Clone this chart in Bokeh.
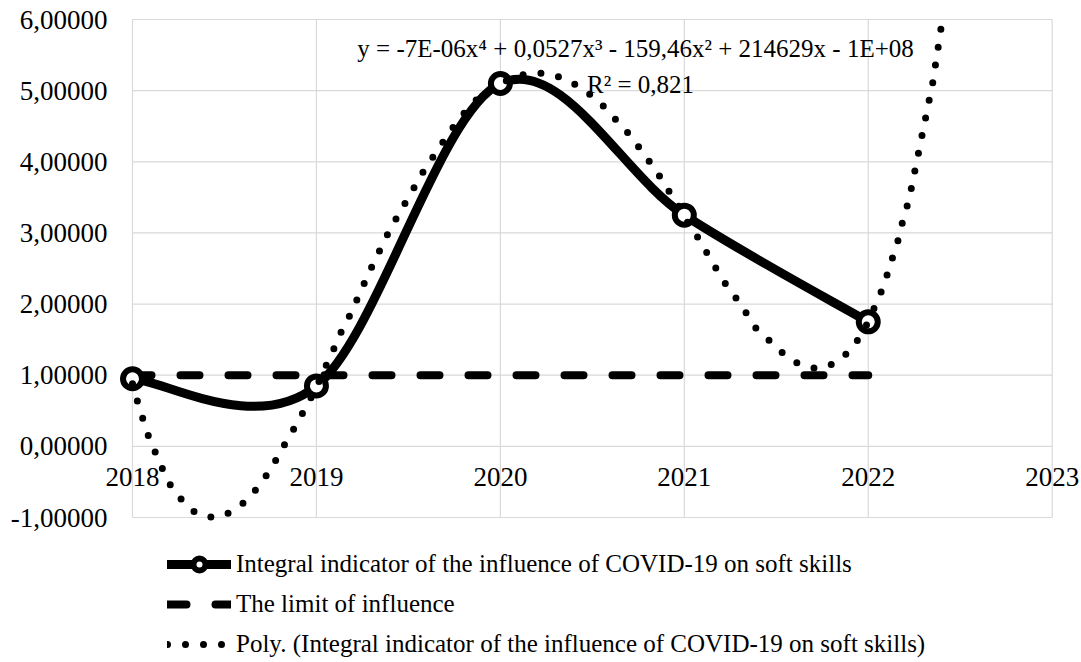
import numpy as np
from bokeh.plotting import figure
from bokeh.models import (Range1d, FixedTicker, CustomJSTickFormatter, Legend,
                          LegendItem, Label, ColumnDataSource)
from bokeh.embed import file_html
from bokeh.resources import INLINE

# ---------------- data ----------------
years = [2018, 2019, 2020, 2021, 2022]
indicator = [0.95, 0.85, 5.10, 3.25, 1.75]
limit = [1.0, 1.0, 1.0, 1.0, 1.0]

# polynomial trendline (visible part)
trend_x = [2018.00, 2018.02, 2018.05, 2018.08, 2018.12, 2018.16, 2018.20, 2018.26,
           2018.33, 2018.40, 2018.46, 2018.52, 2018.60, 2018.67, 2018.73, 2018.78,
           2018.83, 2018.88, 2018.93, 2019.00, 2019.06, 2019.10, 2019.14, 2019.19,
           2019.23, 2019.30, 2019.40, 2019.50, 2019.55, 2019.60, 2019.66, 2019.71,
           2019.77, 2019.83, 2019.90, 2020.00, 2020.09, 2020.19, 2020.28, 2020.38,
           2020.46, 2020.54, 2020.61, 2020.68, 2020.74, 2020.80, 2020.86, 2020.91,
           2020.965, 2021.01, 2021.07, 2021.12, 2021.17, 2021.22, 2021.28, 2021.34,
           2021.39, 2021.47, 2021.54, 2021.62, 2021.72, 2021.81, 2021.89, 2021.95,
           2022.00, 2022.04, 2022.08, 2022.11, 2022.14, 2022.17, 2022.19, 2022.22,
           2022.24, 2022.26, 2022.28, 2022.30, 2022.32, 2022.34, 2022.36, 2022.37,
           2022.39, 2022.40]
trend_y = [0.88, 0.69, 0.44, 0.19, -0.06, -0.30, -0.52, -0.73,
           -0.91, -0.99, -1.00, -0.94, -0.80, -0.61, -0.40, -0.19,
           0.04, 0.26, 0.49, 0.83, 1.18, 1.40, 1.64, 1.88,
           2.12, 2.52, 3.05, 3.50, 3.72, 3.95, 4.16, 4.37,
           4.58, 4.77, 4.95, 5.10, 5.21, 5.25, 5.23, 5.13,
           5.00, 4.84, 4.64, 4.45, 4.25, 4.04, 3.82, 3.61,
           3.40, 3.18, 2.95, 2.73, 2.51, 2.30, 2.09, 1.86,
           1.66, 1.47, 1.30, 1.16, 1.09, 1.16, 1.32, 1.52,
           1.75, 1.99, 2.23, 2.47, 2.72, 2.96, 3.20, 3.45,
           3.70, 3.96, 4.21, 4.47, 4.72, 4.98, 5.23, 5.48,
           5.74, 6.00]

x_ticks = [2018, 2019, 2020, 2021, 2022, 2023]
y_ticks = [-1, 0, 1, 2, 3, 4, 5, 6]

series_name = "Integral indicator of the influence of COVID-19 on soft skills"
limit_name = "The limit of influence"
trend_name = "Poly. (Integral indicator of the influence of COVID-19 on soft skills)"
equation = "y = -7E-06x\u2074 + 0,0527x\u00b3 - 159,46x\u00b2 + 214629x - 1E+08"
r2_text = "R\u00b2 = 0,821"

FONT = "Liberation Serif"
GRID = "#d9d9d9"

# ---------------- figure ----------------
# The frame fills the whole canvas so that the labels and the legend that sit
# around the gridded area are not clipped; the visible plot area spans
# 2018..2023 x -1..6 (pixels 132..1052 x 19..517).
W, H = 1081, 660
xpx = (1051.7 - 132.0) / (x_ticks[-1] - x_ticks[0])
ypx = (517.0 - 19.0) / (y_ticks[-1] - y_ticks[0])
x_range = Range1d(x_ticks[0] - 132.0 / xpx, x_ticks[0] + (W - 132.0) / xpx)
y_range = Range1d(y_ticks[0] - (H - 517.0) / ypx, y_ticks[-1] + 19.0 / ypx)

p = figure(width=W, height=H, output_backend="svg", toolbar_location=None,
           x_range=x_range, y_range=y_range)
p.min_border = 0
p.min_border_left = 0
p.min_border_right = 0
p.min_border_top = 0
p.min_border_bottom = 0
p.outline_line_color = None
p.background_fill_color = "white"
p.border_fill_color = "white"
p.xgrid.visible = False
p.ygrid.visible = False

# gridlines of the plot area, from the tick lists
p.segment(x0=x_ticks, x1=x_ticks, y0=[min(y_ticks)] * len(x_ticks),
          y1=[max(y_ticks)] * len(x_ticks), line_color=GRID, line_width=1.2)
p.segment(x0=[min(x_ticks)] * len(y_ticks), x1=[max(x_ticks)] * len(y_ticks),
          y0=y_ticks, y1=y_ticks, line_color=GRID, line_width=1.2)

p.xaxis.ticker = FixedTicker(ticks=x_ticks)
p.yaxis.ticker = FixedTicker(ticks=y_ticks)
p.xaxis.fixed_location = 0
p.yaxis.fixed_location = x_ticks[0]
p.xaxis.formatter = CustomJSTickFormatter(code="return tick.toFixed(0);")
p.yaxis.formatter = CustomJSTickFormatter(code="return tick.toFixed(5).replace('.', ',');")
for ax in (p.xaxis[0], p.yaxis[0]):
    ax.axis_line_color = None
    ax.major_tick_line_color = None
    ax.minor_tick_line_color = None
    ax.major_tick_in = 0
    ax.major_tick_out = 0
    ax.minor_tick_out = 0
    ax.major_label_text_font = FONT
    ax.major_label_text_font_size = "27px"
    ax.major_label_text_color = "black"
p.xaxis.major_label_standoff = 22
p.yaxis.major_label_standoff = 25

# limit line (dashed)
lim_r = p.line(years, limit, line_color="black", line_width=8,
               line_dash="19 29", line_cap="round")

# smoothed main series drawn with cubic Bezier segments
xs = np.array(years, dtype=float)
ys = np.array(indicator, dtype=float)
ex = np.concatenate([[xs[0]], xs, [xs[-1]]])
ey = np.concatenate([[ys[0]], ys, [ys[-1]]])
n = len(xs)
seg = dict(x0=[], y0=[], x1=[], y1=[], cx0=[], cy0=[], cx1=[], cy1=[])
for i in range(n - 1):
    seg["x0"].append(xs[i]); seg["y0"].append(ys[i])
    seg["x1"].append(xs[i + 1]); seg["y1"].append(ys[i + 1])
    seg["cx0"].append(xs[i] + (ex[i + 2] - ex[i]) / 6.0)
    seg["cy0"].append(ys[i] + (ey[i + 2] - ey[i]) / 6.0)
    seg["cx1"].append(xs[i + 1] - (ex[i + 3] - ex[i + 1]) / 6.0)
    seg["cy1"].append(ys[i + 1] - (ey[i + 3] - ey[i + 1]) / 6.0)
p.bezier(x0="x0", y0="y0", x1="x1", y1="y1", cx0="cx0", cy0="cy0",
         cx1="cx1", cy1="cy1", source=ColumnDataSource(seg),
         line_color="black", line_width=9, line_cap="round")
# legend stand-in for the smoothed line (no visible points)
main_line_key = p.line(x=[float("nan"), float("nan")], y=[float("nan"), float("nan")],
                       line_color="black", line_width=9, line_cap="round")
mk_r = p.scatter(years, indicator, marker="circle", size=19, line_width=6,
                 line_color="black", fill_color="white")

# polynomial trendline (dotted)
tr_r = p.line(trend_x, trend_y, line_color="black", line_width=7,
              line_dash="0 18", line_cap="round")

# equation labels
p.add_layout(Label(x=2020.735, y=5.596, text=equation, text_align="center",
                   text_baseline="alphabetic", text_font=FONT,
                   text_font_size="25px", text_color="black"))
p.add_layout(Label(x=2020.762, y=5.09, text=r2_text, text_align="center",
                   text_baseline="alphabetic", text_font=FONT,
                   text_font_size="25px", text_color="black"))

legend = Legend(items=[
    LegendItem(label=series_name, renderers=[main_line_key, mk_r]),
    LegendItem(label=limit_name, renderers=[lim_r]),
    LegendItem(label=trend_name, renderers=[tr_r]),
], location=(167, 1), orientation="vertical")
legend.padding = 0
legend.margin = 0
legend.spacing = 10
legend.glyph_width = 64
legend.glyph_height = 30
legend.label_height = 30
legend.label_standoff = 5
legend.label_text_font = FONT
legend.label_text_font_size = "25px"
legend.label_text_color = "black"
legend.border_line_color = None
legend.background_fill_alpha = 0
p.add_layout(legend, "center")

open("out.html", "w").write(file_html(p, INLINE))
